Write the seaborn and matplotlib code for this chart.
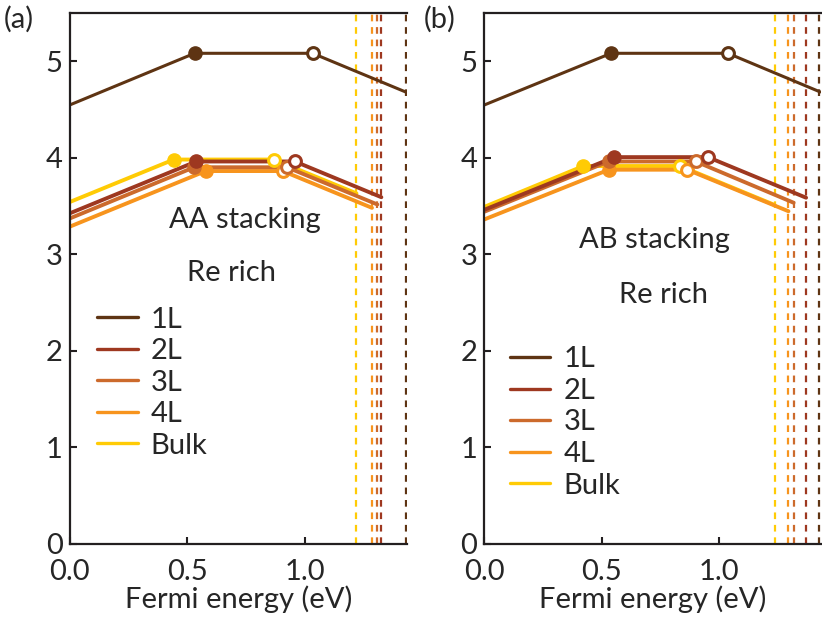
import numpy as np
import pandas as pd
import matplotlib
matplotlib.use("Agg")
import matplotlib.pyplot as plt
import seaborn as sns

# ---------------- data ----------------
layers = ["1L", "2L", "3L", "4L", "Bulk"]
colors = ["#5E3413", "#9E3820", "#CC6A2C", "#F7941D", "#FFCB05"]

# AA stacking: piecewise formation energy (start, filled CTL, open CTL, CBM end)
aa_x = {
    "1L":   [0.0, 0.532, 1.034, 1.430],
    "2L":   [0.0, 0.539, 0.959, 1.327],
    "3L":   [0.0, 0.530, 0.925, 1.310],
    "4L":   [0.0, 0.579, 0.907, 1.287],
    "Bulk": [0.0, 0.443, 0.869, 1.221],
}
aa_y = {
    "1L":   [4.545, 5.08, 5.08, 4.68],
    "2L":   [3.423, 3.96, 3.96, 3.59],
    "3L":   [3.370, 3.90, 3.90, 3.515],
    "4L":   [3.285, 3.861, 3.861, 3.48],
    "Bulk": [3.540, 3.98, 3.98, 3.63],
}
aa_cbm = [1.430, 1.327, 1.310, 1.287, 1.221]

# AB stacking
ab_x = {
    "1L":   [0.0, 0.540, 1.037, 1.430],
    "2L":   [0.0, 0.554, 0.952, 1.370],
    "3L":   [0.0, 0.529, 0.900, 1.317],
    "4L":   [0.0, 0.530, 0.864, 1.295],
    "Bulk": [0.0, 0.422, 0.834, 1.236],
}
ab_y = {
    "1L":   [4.545, 5.08, 5.08, 4.68],
    "2L":   [3.460, 4.005, 4.005, 3.585],
    "3L":   [3.440, 3.960, 3.960, 3.533],
    "4L":   [3.360, 3.875, 3.875, 3.445],
    "Bulk": [3.490, 3.913, 3.913, 3.51],
}
ab_cbm = [1.425, 1.370, 1.317, 1.295, 1.236]

xticks = [0.0, 0.5, 1.0]
yticks = [0, 1, 2, 3, 4, 5]

# ---------------- style ----------------
sns.set_style("ticks")
plt.rcParams["font.family"] = ["Lato", "DejaVu Sans"]
FS = 21
spine_c = "#231F20"

fig = plt.figure(figsize=(8.22, 6.27), dpi=100)
axA = fig.add_axes([0.0848, 0.1324, 0.4100, 0.8473])
axB = fig.add_axes([0.5892, 0.1324, 0.4100, 0.8473])

def draw(ax, xs, ys, cbms, title, tpos, rpos, legpos, tag, tagx):
    rows = []
    for lay in layers:
        for x, y in zip(xs[lay], ys[lay]):
            rows.append({"x": x, "y": y, "layer": lay})
    df = pd.DataFrame(rows)
    pal = dict(zip(layers, colors))
    # CBM dashed lines
    for c, xc in zip(colors, cbms):
        ax.axvline(xc, color=c, lw=1.6, dashes=(3.0, 2.6), zorder=1)
    # lines (draw bulk first, 1L last)
    for lay in layers[::-1]:
        sub = df[df.layer == lay]
        lw = 2.2 if lay == "1L" else 2.8
        sns.lineplot(data=sub, x="x", y="y", color=pal[lay], lw=lw,
                     sort=False, estimator=None, ax=ax, zorder=2,
                     legend=False)
    # markers
    for lay in layers[::-1]:
        c = pal[lay]
        ax.plot(xs[lay][1], ys[lay][1], "o", ms=9.5, color=c, mec=c,
                zorder=3)
        ax.plot(xs[lay][2], ys[lay][2], "o", ms=8.5, mfc="white", mec=c,
                mew=2.2, zorder=3)
    # legend handles
    handles = [plt.Line2D([], [], color=c, lw=2.4) for c in colors]
    ax.legend(handles, layers, loc="upper left", bbox_to_anchor=legpos,
              frameon=False, fontsize=FS, handlelength=1.4,
              handletextpad=0.45, labelspacing=0.19, borderpad=0,
              borderaxespad=0)
    ax.text(tpos[0], tpos[1], title, fontsize=FS, ha="center", va="center")
    ax.text(rpos[0], rpos[1], "Re rich", fontsize=FS, ha="center",
            va="center")
    ax.set_xlim(0, 1.435)
    ax.set_ylim(0, 5.5)
    ax.set_xticks(xticks)
    ax.set_xticklabels([f"{t:.1f}" for t in xticks])
    ax.set_yticks(yticks)
    ax.tick_params(direction="in", length=5, width=1.5, labelsize=FS,
                   color=spine_c)
    ax.tick_params(axis="x", pad=11)
    ax.tick_params(axis="y", pad=5)
    ax.set_xlabel("Fermi energy (eV)", fontsize=FS, labelpad=0)
    ax.set_ylabel("")
    for s in ["left", "bottom", "top"]:
        ax.spines[s].set_color(spine_c)
        ax.spines[s].set_linewidth(1.6)
    ax.spines["right"].set_visible(False)
    fig.text(tagx, 0.99, tag, fontsize=FS, ha="left", va="top")

draw(axA, aa_x, aa_y, aa_cbm, "AA stacking", (0.744, 3.354), (0.69, 2.805),
     (0.08, 0.447), "(a)", 0.005)
draw(axB, ab_x, ab_y, ab_cbm, "AB stacking", (0.723, 3.147), (0.765, 2.578),
     (0.075, 0.372), "(b)", 0.516)

fig.savefig("out.png", dpi=100)
